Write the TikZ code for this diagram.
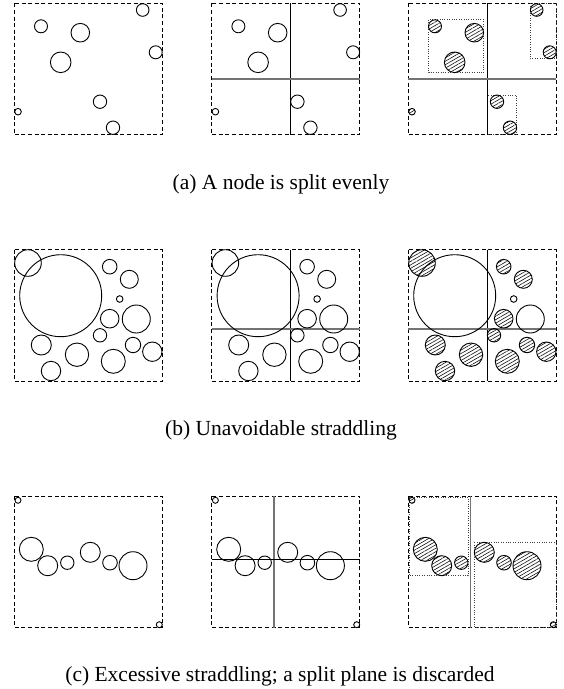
\documentclass[tikz,border=0pt]{standalone}
\usepackage{fontspec}
\setmainfont{Liberation Serif}
\usetikzlibrary{patterns.meta}
\tikzset{
  cell/.style={draw, line width=0.9pt, dash pattern=on 4pt off 2.6pt},
  ball/.style={draw, line width=0.9pt},
  hatched/.style={ball, pattern={Lines[angle=30,distance=3pt,line width=0.55pt]}},
  primary/.style={draw=black!55, line width=1.6pt},
  secondary/.style={draw, line width=0.9pt},
  bound/.style={draw=black!75, line width=0.8pt, dash pattern=on 0.8pt off 1.6pt},
  caption/.style={font=\fontsize{21.5}{26}\selectfont, anchor=base},
}
\def\W{148}
\def\H{131.5}
% row 1 circles
\def\rowA{128.4/6.7/6.3, 26.7/23/6.5, 66/29.4/9.3, 141.4/49/6.5, 46.4/59/10.3, 85.7/98.4/6.7, 3.7/108.4/3.3, 98.7/124.4/6.7}
\def\rowAc{128.4/6.7/6.3, 26.7/23/6.5, 66/29.4/9.3, 141.4/49/6.5, 46.4/59/10.3, 88.7/98.4/6.7, 3.7/108.4/3.3, 101.7/124.4/6.7}
% row 2 circles
\def\rowBin{13.7/13.3/13.3, 95.4/17/7.3, 115/29.6/9, 95.4/69/9.3, 85.7/85.6/6.7, 27/95.3/10, 62.7/105/11.7, 118.7/95.3/7.7, 138/102/9.7, 99/111.6/12, 36.7/121.3/9.7}
\def\rowBout{46.4/46/41, 105.4/49.3/3.3, 122/69.3/14}
% row 3 circles
\def\rowC{3.7/4.3/3, 17/53.3/12, 33.4/69.7/10, 53/66.7/6.7, 76/56.3/10, 95.7/66.7/7.3, 118.7/69.7/14, 145/128.7/3}
\begin{document}
\begin{tikzpicture}[x=1pt,y=-1pt]
\useasboundingbox (0,0) rectangle (563,689);

% ---------- row 1 ----------
\begin{scope}[shift={(14.3,3.3)}]
  \draw[cell] (0,0) rectangle (\W,\H);
  \foreach \x/\y/\r in \rowA {\draw[ball] (\x,\y) circle[radius=\r pt];}
\end{scope}
\begin{scope}[shift={(211.7,3.3)}]
  \draw[cell] (0,0) rectangle (\W,\H);
  \draw[secondary] (79,0) -- (79,\H);
  \draw[primary] (0,75.4) -- (\W,75.4);
  \foreach \x/\y/\r in \rowA {\draw[ball] (\x,\y) circle[radius=\r pt];}
\end{scope}
\begin{scope}[shift={(408.3,3.3)}]
  \draw[cell] (0,0) rectangle (\W,\H);
  \draw[bound] (20.2,16.5) rectangle (75.3,69.3);
  \draw[bound] (122,0) rectangle (\W,55.5);
  \draw[bound] (78.7,91.7) rectangle (108.4,\H);
  \draw[secondary] (78.7,0) -- (78.7,\H);
  \draw[primary] (0,75.4) -- (\W,75.4);
  \foreach \x/\y/\r in \rowAc {\draw[hatched] (\x,\y) circle[radius=\r pt];}
\end{scope}
\node[caption] (capa) at (281,189) {(a) A node is split evenly};

% ---------- row 2 ----------
\begin{scope}[shift={(14.3,249.7)}]
  \draw[cell] (0,0) rectangle (\W,\H);
  \foreach \x/\y/\r in \rowBin {\draw[ball] (\x,\y) circle[radius=\r pt];}
  \foreach \x/\y/\r in \rowBout {\draw[ball] (\x,\y) circle[radius=\r pt];}
\end{scope}
\begin{scope}[shift={(211.7,249.7)}]
  \draw[cell] (0,0) rectangle (\W,\H);
  \draw[secondary] (79,0) -- (79,\H);
  \draw[primary] (0,79) -- (\W,79);
  \foreach \x/\y/\r in \rowBin {\draw[ball] (\x,\y) circle[radius=\r pt];}
  \foreach \x/\y/\r in \rowBout {\draw[ball] (\x,\y) circle[radius=\r pt];}
\end{scope}
\begin{scope}[shift={(408.3,249.7)}]
  \draw[cell] (0,0) rectangle (\W,\H);
  \draw[secondary] (78.7,0) -- (78.7,\H);
  \draw[primary] (0,79) -- (\W,79);
  \foreach \x/\y/\r in \rowBin {\draw[hatched] (\x,\y) circle[radius=\r pt];}
  \foreach \x/\y/\r in \rowBout {\draw[ball] (\x,\y) circle[radius=\r pt];}
\end{scope}
\node[caption] (capb) at (281,435.7) {(b) Unavoidable straddling};

% ---------- row 3 ----------
\begin{scope}[shift={(14.3,496)}]
  \draw[cell] (0,0) rectangle (\W,\H);
  \foreach \x/\y/\r in \rowC {\draw[ball] (\x,\y) circle[radius=\r pt];}
\end{scope}
\begin{scope}[shift={(211.7,496)}]
  \draw[cell] (0,0) rectangle (\W,\H);
  \draw[primary] (62.3,0) -- (62.3,\H);
  \draw[secondary] (0,63.3) -- (\W,63.3);
  \foreach \x/\y/\r in \rowC {\draw[ball] (\x,\y) circle[radius=\r pt];}
\end{scope}
\begin{scope}[shift={(408.3,496)}]
  \draw[cell] (0,0) rectangle (\W,\H);
  \draw[bound] (0.7,1.3) rectangle (59.7,79.7);
  \draw[bound] (66,46.3) rectangle (\W,\H);
  \draw[primary] (62.3,0) -- (62.3,\H);
  \foreach \x/\y/\r in \rowC {\draw[hatched] (\x,\y) circle[radius=\r pt];}
\end{scope}
\node[caption] (capc) at (280,681.5) {(c) Excessive straddling; a split plane is discarded};
\end{tikzpicture}
\end{document}
